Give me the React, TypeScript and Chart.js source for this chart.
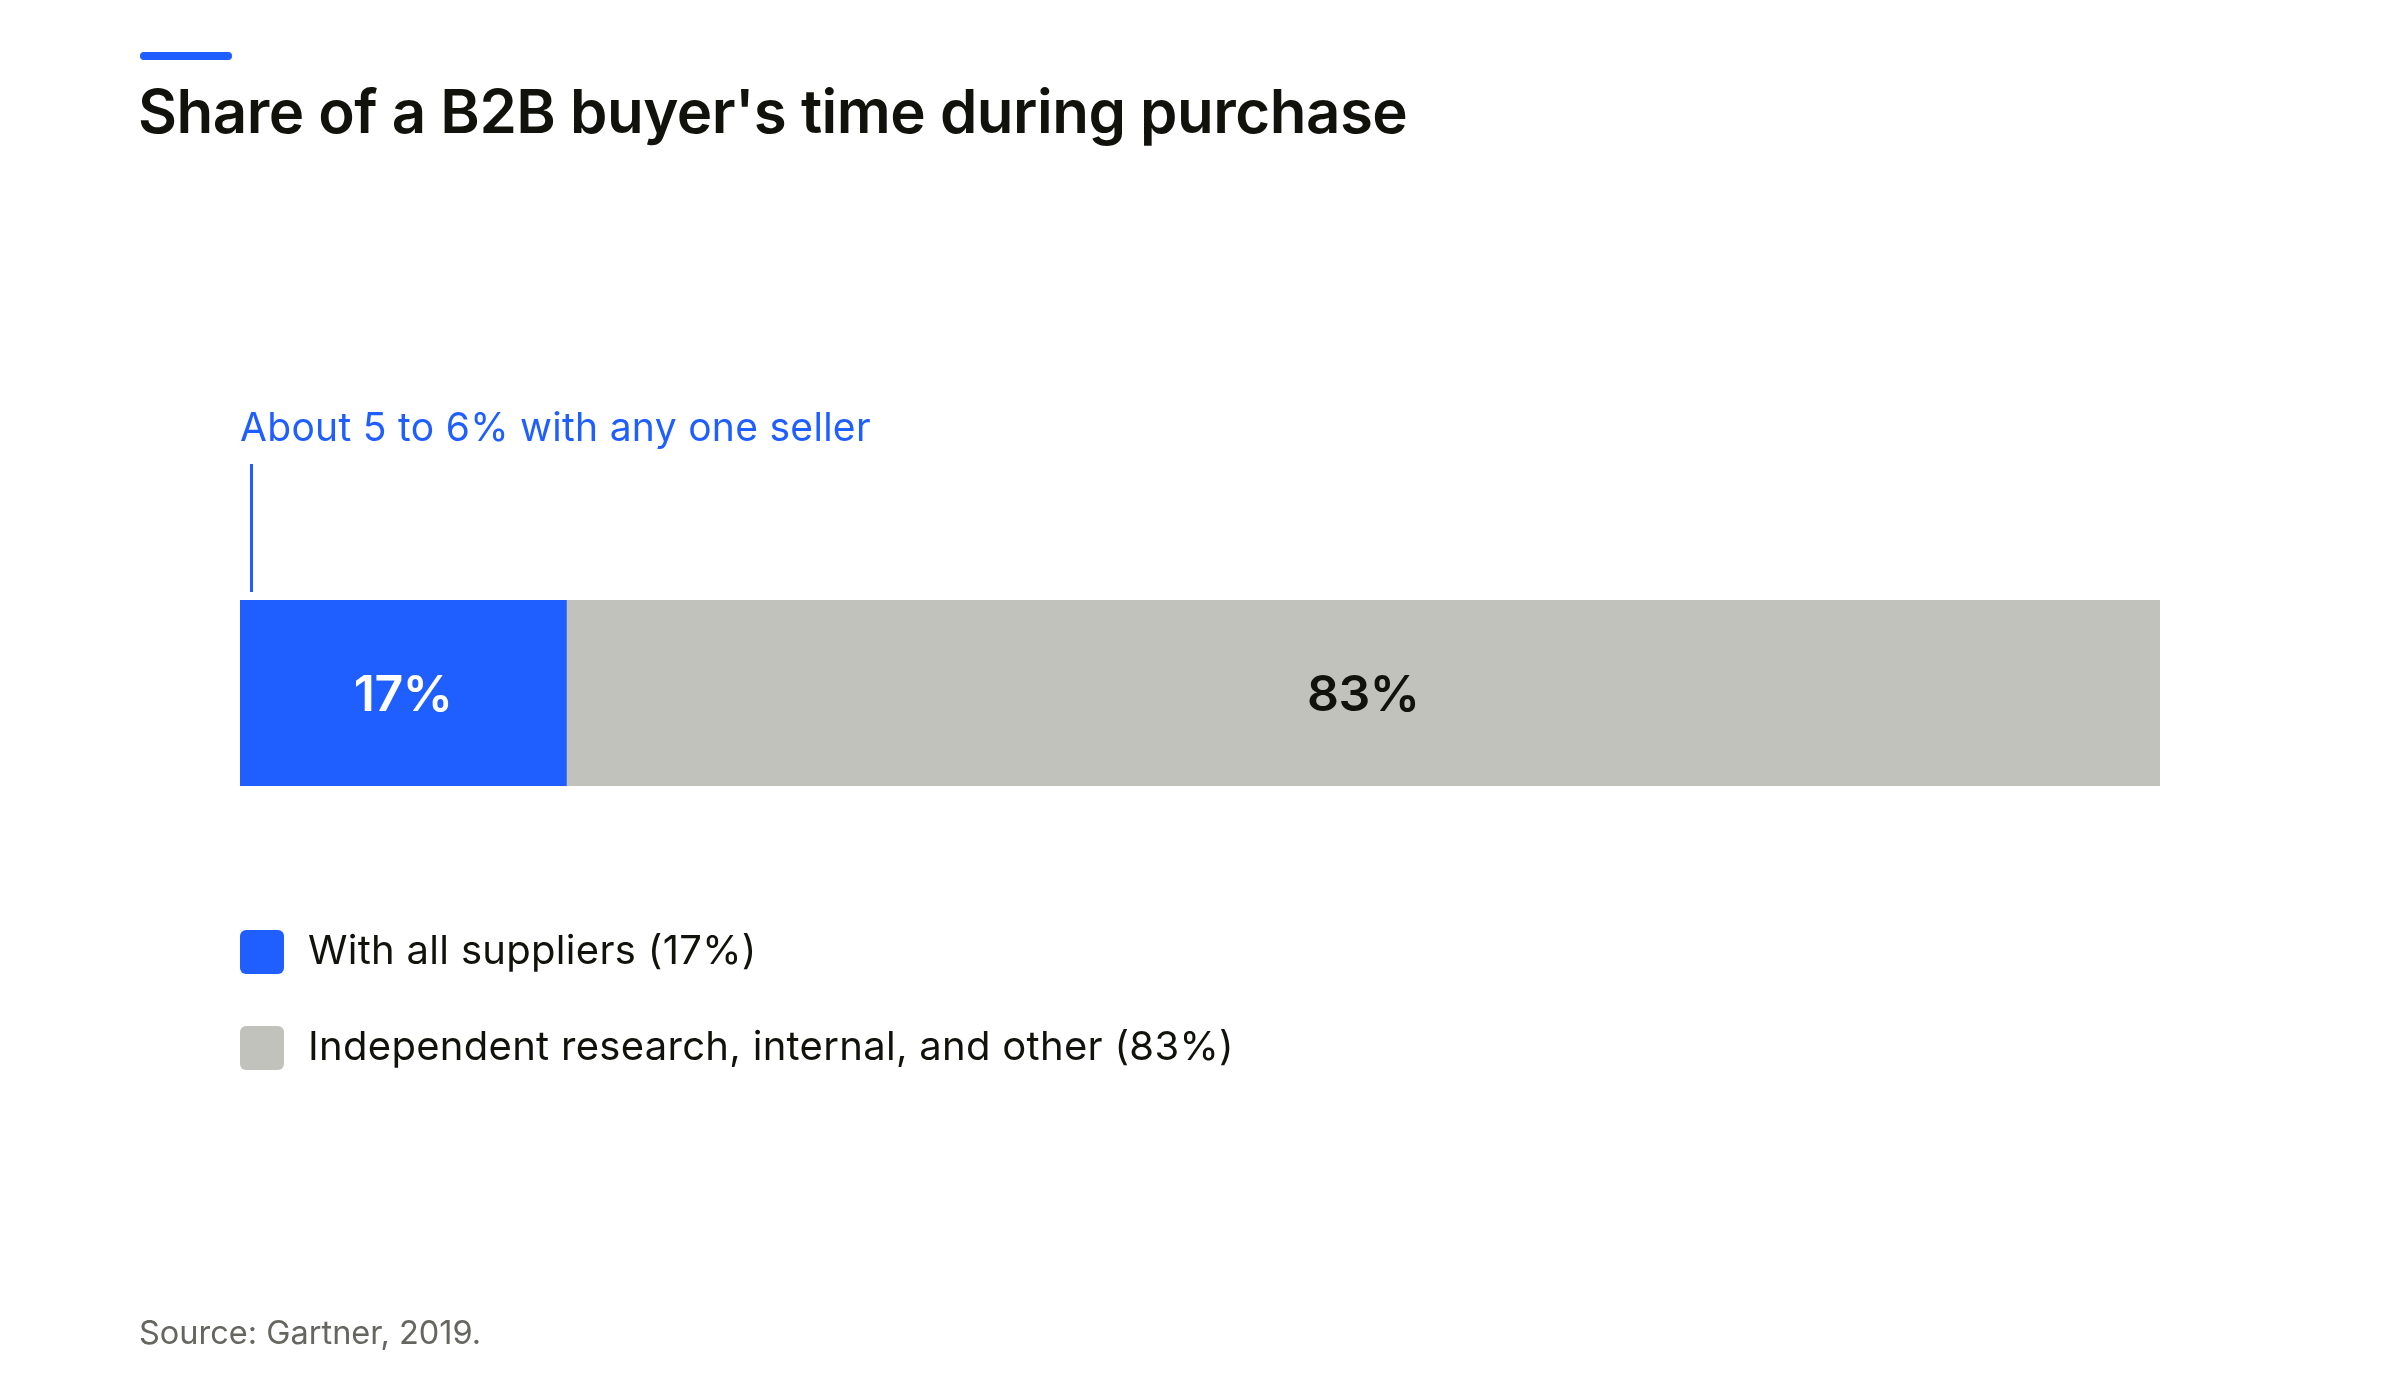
import { useEffect, useRef } from "react";
import { Chart, registerables } from "chart.js";

Chart.register(...registerables);

// Chart data
const categories = ["B2B buyer's time"];
const supplierShare = [17];
const otherShare = [83];
const seriesNames = [
  "With all suppliers (17%)",
  "Independent research, internal, and other (83%)",
];
const barLabels = ["17%", "83%"];
const titleText = "Share of a B2B buyer's time during purchase";
const annotationText = "About 5 to 6% with any one seller";
const annotationValue = [0.6];
const sourceText = "Source: Gartner, 2019.";

const FONT = "Inter, 'Noto Sans', sans-serif";
const BLUE = "#1f5eff";
const GREY = "#c2c2bd";
const INK = "#12120c";

const decorPlugin = {
  id: "decor",
  afterDatasetsDraw(chart: any) {
    const { ctx, chartArea, scales } = chart;
    const x = scales.x;
    ctx.save();

    // accent bar above the title
    ctx.fillStyle = BLUE;
    ctx.beginPath();
    ctx.roundRect(140, 52, 92, 8, 4);
    ctx.fill();

    // title
    ctx.fillStyle = INK;
    ctx.textBaseline = "alphabetic";
    ctx.textAlign = "left";
    ctx.font = `600 60px ${FONT}`;
    ctx.letterSpacing = "-0.5px";
    ctx.fillText(titleText, 138, 133);

    // annotation text + marker line
    ctx.fillStyle = BLUE;
    ctx.font = `400 39px ${FONT}`;
    ctx.letterSpacing = "0.3px";
    ctx.fillText(annotationText, chartArea.left, 441);
    const ax = x.getPixelForValue(annotationValue[0]);
    ctx.strokeStyle = BLUE;
    ctx.lineWidth = 3;
    ctx.beginPath();
    ctx.moveTo(ax, 464);
    ctx.lineTo(ax, chartArea.top - 8);
    ctx.stroke();

    // value labels centred in each segment
    ctx.textAlign = "center";
    ctx.font = `600 50px ${FONT}`;
    ctx.letterSpacing = "-0.5px";
    chart.data.datasets.forEach((ds: any, i: number) => {
      const bar = chart.getDatasetMeta(i).data[0];
      if (!bar) return;
      const props = bar.getProps(["x", "base", "y"], true);
      const cx = (props.x + props.base) / 2;
      ctx.fillStyle = i === 0 ? "#ffffff" : INK;
      ctx.fillText(barLabels[i], cx, props.y + 18);
    });

    // legend
    ctx.textAlign = "left";
    ctx.font = `400 40px ${FONT}`;
    ctx.letterSpacing = "0.3px";
    const legendTops = [930, 1026];
    chart.data.datasets.forEach((ds: any, i: number) => {
      const top = legendTops[i];
      ctx.fillStyle = ds.backgroundColor;
      ctx.beginPath();
      ctx.roundRect(chartArea.left, top, 44, 44, 6);
      ctx.fill();
      ctx.fillStyle = INK;
      ctx.fillText(ds.label, 308, top + 34);
    });

    // source
    ctx.fillStyle = "#666661";
    ctx.font = `400 32.5px ${FONT}`;
    ctx.letterSpacing = "0px";
    ctx.fillText(sourceText, 139, 1344);

    ctx.restore();
  },
};

export default function App() {
  const chartRef = useRef<HTMLCanvasElement>(null);
  const chartInstance = useRef<Chart | null>(null);

  useEffect(() => {
    document.body.style.margin = "0";
    if (!chartRef.current) return;
    if (chartInstance.current) chartInstance.current.destroy();
    const ctx = chartRef.current.getContext("2d");
    if (!ctx) return;

    chartInstance.current = new Chart(ctx, {
      type: "bar",
      data: {
        labels: categories,
        datasets: [
          {
            label: seriesNames[0],
            data: supplierShare,
            backgroundColor: BLUE,
            borderWidth: 0,
          },
          {
            label: seriesNames[1],
            data: otherShare,
            backgroundColor: GREY,
            borderWidth: 0,
          },
        ],
      },
      options: {
        indexAxis: "y",
        animation: false,
        responsive: true,
        maintainAspectRatio: false,
        datasets: {
          bar: { barPercentage: 1, categoryPercentage: 1 },
        },
        layout: {
          padding: { left: 240, right: 240, top: 600, bottom: 614 },
        },
        plugins: {
          legend: { display: false },
          tooltip: { enabled: false },
          title: { display: false },
        },
        scales: {
          x: { stacked: true, min: 0, max: 100, display: false },
          y: { stacked: true, display: false },
        },
      },
      plugins: [decorPlugin],
    });

    return () => {
      if (chartInstance.current) {
        chartInstance.current.destroy();
        chartInstance.current = null;
      }
    };
  }, []);

  return (
    <div style={{ position: "fixed", left: 0, top: 0, width: 2400, height: 1400, background: "#ffffff" }}>
      <canvas ref={chartRef} />
    </div>
  );
}
